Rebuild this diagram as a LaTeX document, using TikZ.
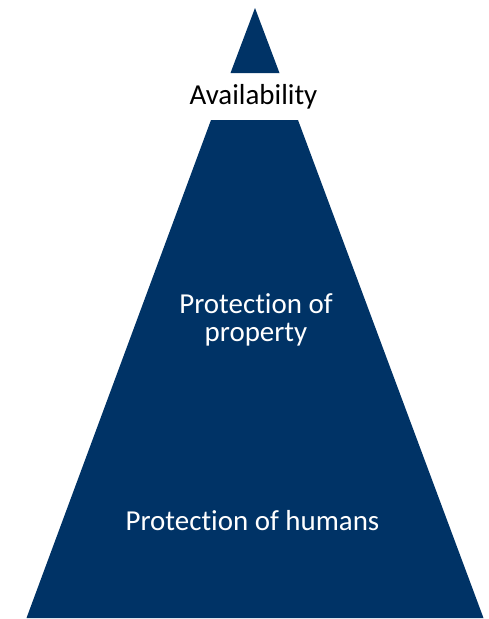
\documentclass[tikz,border=0pt]{standalone}
\usepackage{fontspec}
\setmainfont{Carlito}[Ligatures=NoCommon]
\definecolor{mynavy}{HTML}{003366}
\usetikzlibrary{positioning}
\tikzset{
	levelfill/.style={
			fill=mynavy,
			draw=none
		},
	levellabel/.style={
			anchor=base,
			font=\fontsize{21.7}{20.5}\selectfont,
			text=white,
			align=center,
			inner sep=0pt
		},
	toplabel/.style={
			levellabel,
			text=black
		}
}
\begin{document}
\begin{tikzpicture}[x=0.75pt, y=-0.75pt]
\useasboundingbox (0,0) rectangle (489,619);
\fill[levelfill] (255,8) -- (279.5,73) -- (230.5,73) -- cycle;
\fill[levelfill] (211,120) -- (298,120) -- (483.5,618) -- (26.5,618) -- cycle;

\node[toplabel] (avail) at (253.5,104) {Availability};
\node[levellabel] (property) at (256,341) {Protection of\\property};
\node[levellabel] (humans) at (252.5,530) {Protection of humans};
\end{tikzpicture}
\end{document}
